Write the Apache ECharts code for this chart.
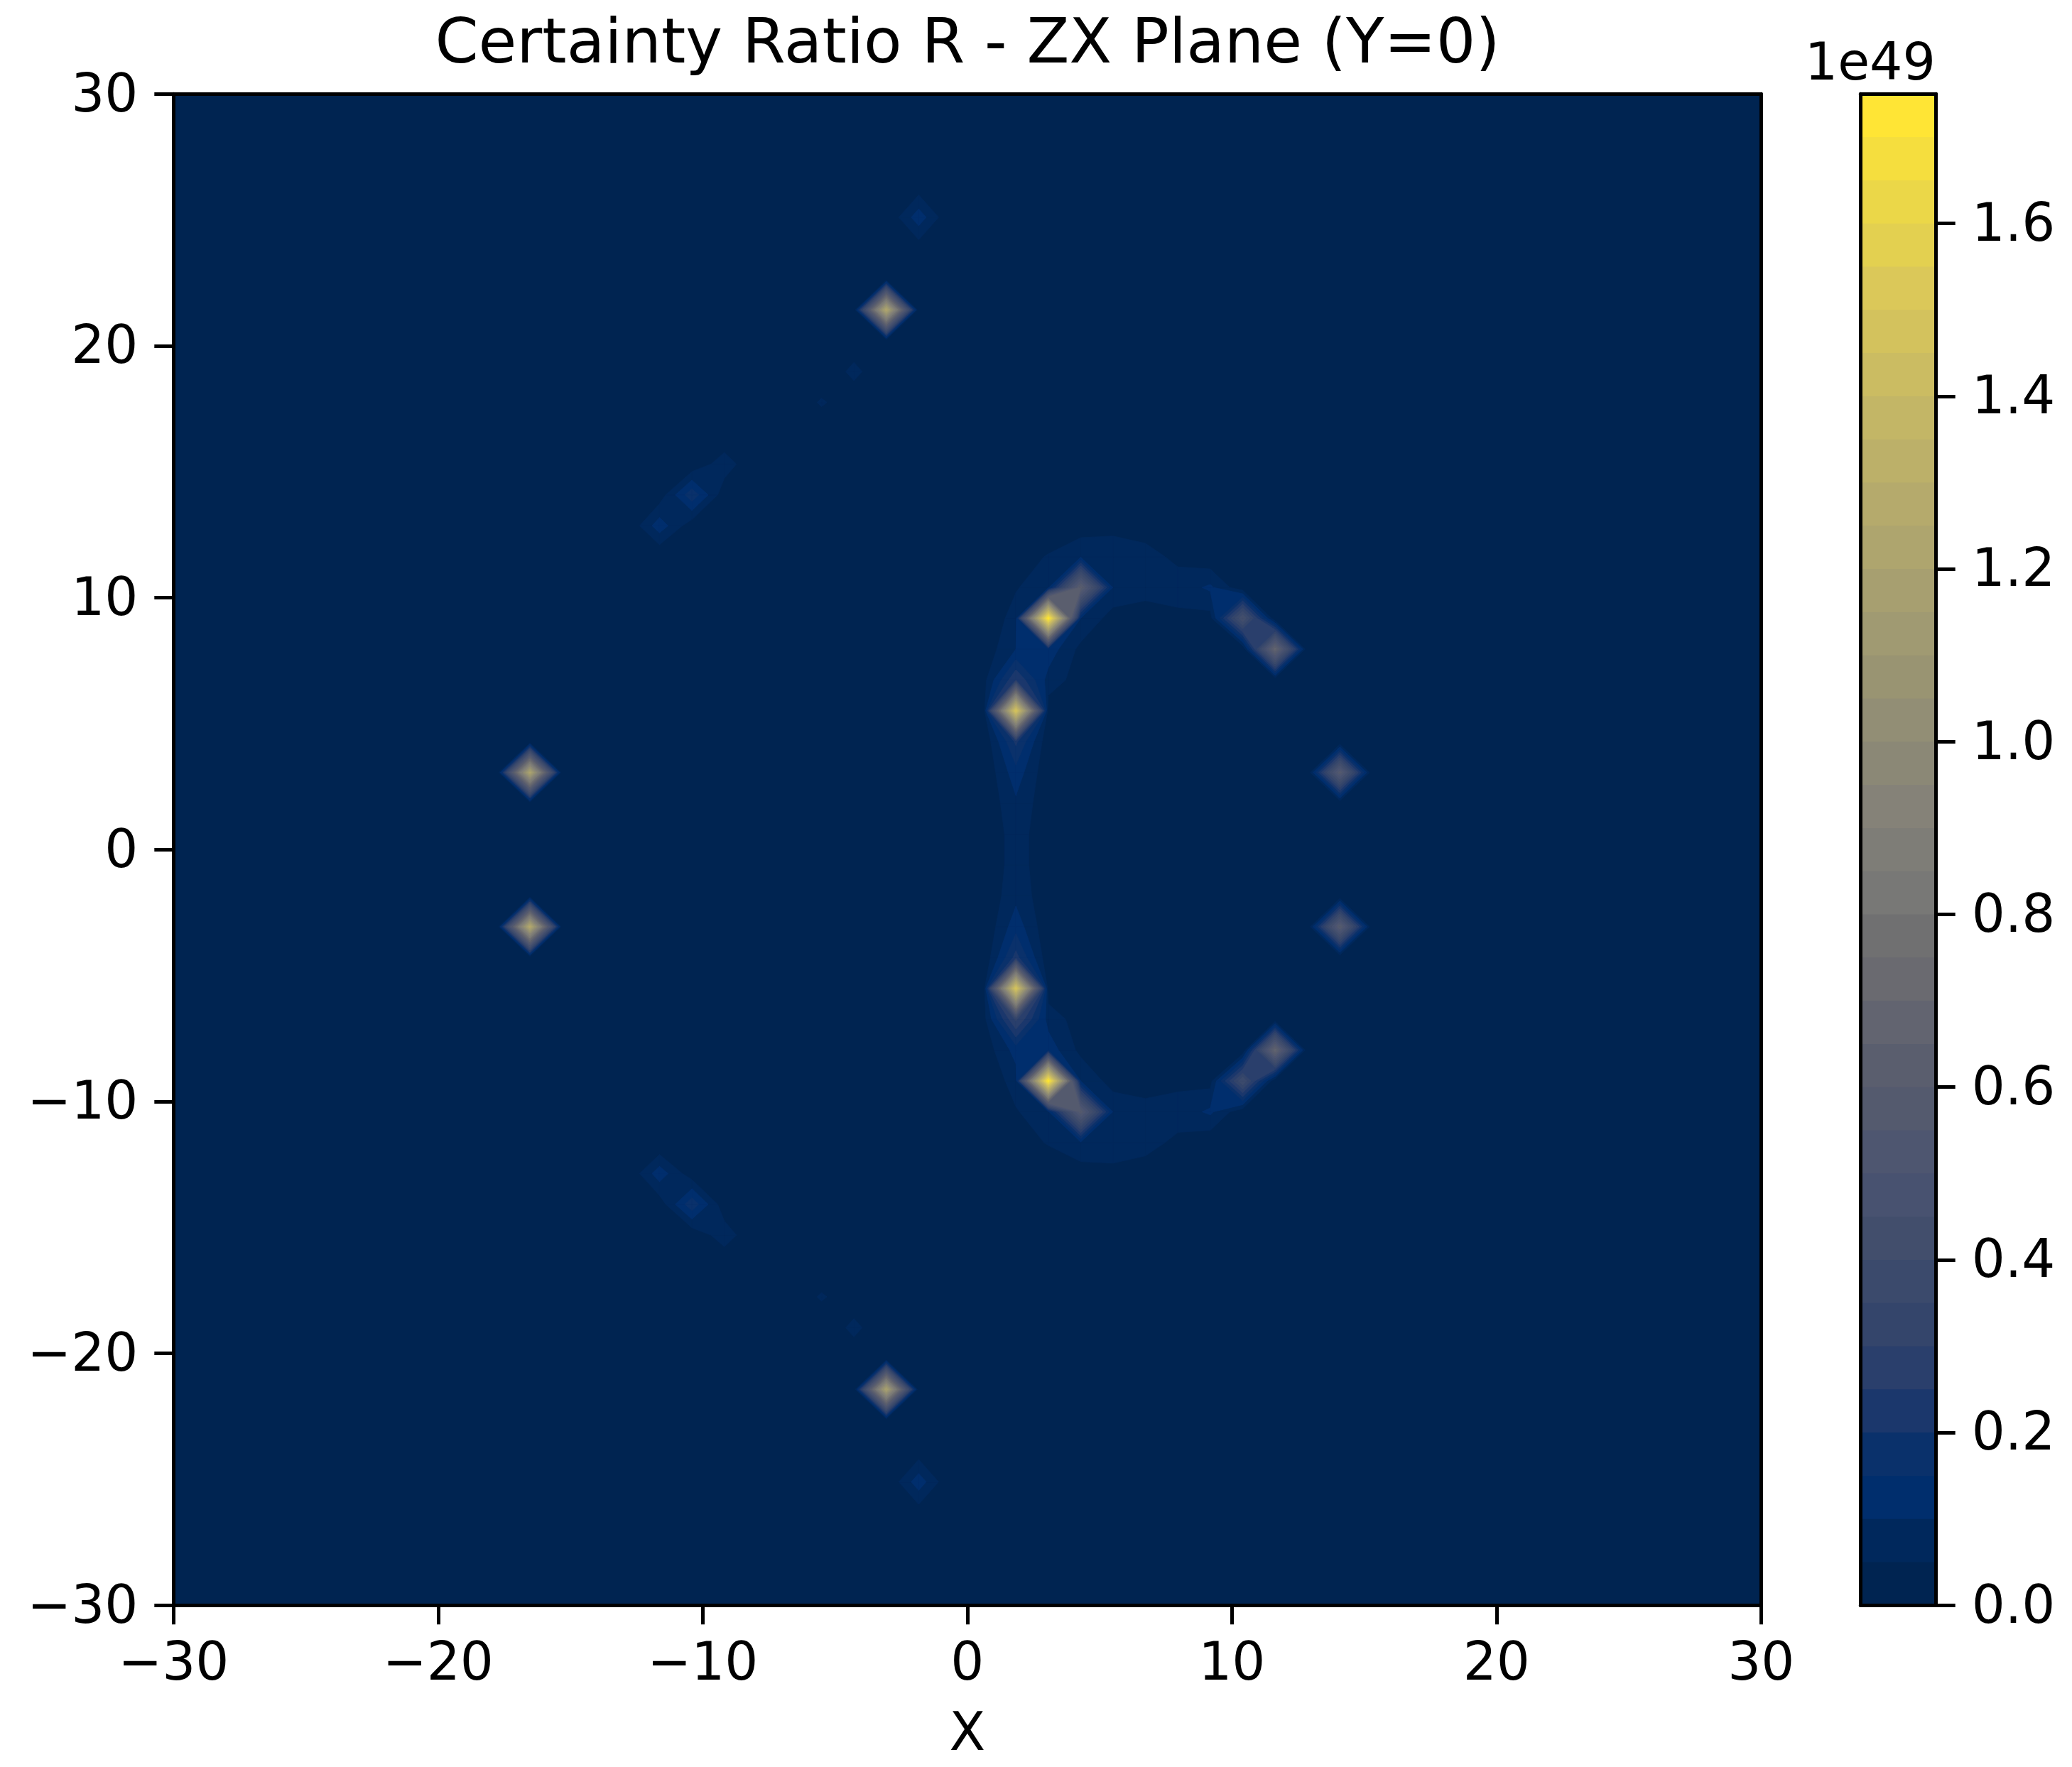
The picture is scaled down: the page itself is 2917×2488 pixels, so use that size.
<!DOCTYPE html>
<html>
<head>
<meta charset="utf-8">
<title>Certainty Ratio R - ZX Plane (Y=0)</title>
<script src="https://cdn.jsdelivr.net/npm/echarts@6/dist/echarts.min.js"></script>
<style>
    html, body { margin: 0; padding: 0; background: #fff; }
    #chart { width: 2917px; height: 2488px; }
</style>
</head>
<body>
<div id="chart"></div>
<script>
// values are in units of 1e49, nodes are [column, row, value] on the 50x50 sample grid, all other nodes are 0
const sparkNodesUpper = [
    [11, 27, 1.22], [36, 27, 0.58], [22, 42, 1.25],
    [23, 45, 0.13], [23, 46, 0.02], [23, 44, 0.02],
    [21, 40, 0.067], [21, 41, 0.01], [21, 39, 0.01], [20, 39, 0.058],
    [15, 35, 0.13], [16, 36, 0.186], [17, 37, 0.08], [17, 36, 0.015],
    [16, 35, 0.016], [15, 36, 0.018], [16, 37, 0.007],
];
const sparkNodesLower = [
    [11, 22, 1.27], [36, 22, 0.6], [22, 7, 1.2],
    [23, 4, 0.13], [23, 3, 0.02], [23, 5, 0.02],
    [21, 9, 0.067], [21, 8, 0.01], [21, 10, 0.01], [20, 10, 0.058],
    [15, 14, 0.13], [16, 13, 0.186], [17, 12, 0.08], [17, 13, 0.015],
    [16, 14, 0.016], [15, 13, 0.018], [16, 12, 0.007],
];
const crescentNodesUpper = [
    [25, 25, 0.013], [26, 25, 0.07], [27, 25, 0.02],
    [25, 26, 0.006], [26, 26, 0.09], [27, 26, 0.013],
    [25, 27, 0.002], [26, 27, 0.13], [27, 27, 0.009],
    [25, 28, 0.004], [26, 28, 0.21], [27, 28, 0.012],
    [26, 29, 1.5], [27, 29, 0.02],
    [25, 30, 0.03], [26, 30, 0.25], [27, 30, 0.08], [28, 30, 0.024],
    [25, 31, 0.015], [26, 31, 0.1], [27, 31, 0.13], [28, 31, 0.035], [34, 31, 0.68],
    [26, 32, 0.075], [27, 32, 1.745], [28, 32, 0.1], [29, 32, 0.025], [30, 32, 0.01],
    [31, 32, 0.039], [32, 32, 0.03], [33, 32, 0.45],
    [26, 33, 0.045], [27, 33, 0.09], [28, 33, 0.62], [29, 33, 0.095], [30, 33, 0.08],
    [31, 33, 0.07], [32, 33, 0.11], [33, 33, 0.01],
    [26, 34, 0.017], [27, 34, 0.055], [28, 34, 0.09], [29, 34, 0.08], [30, 34, 0.065],
    [31, 34, 0.04], [32, 34, 0.01],
    [28, 35, 0.025], [29, 35, 0.035], [30, 35, 0.03],
];
const crescentNodesLower = [
    [25, 24, 0.013], [26, 24, 0.07], [27, 24, 0.02],
    [25, 23, 0.006], [26, 23, 0.085], [27, 23, 0.013],
    [25, 22, 0.002], [26, 22, 0.13], [27, 22, 0.009],
    [25, 21, 0.004], [26, 21, 0.22], [27, 21, 0.012],
    [26, 20, 1.5], [27, 20, 0.02],
    [25, 19, 0.03], [26, 19, 0.31], [27, 19, 0.08], [28, 19, 0.024],
    [25, 18, 0.015], [26, 18, 0.12], [27, 18, 0.13], [28, 18, 0.035], [34, 18, 0.68],
    [26, 17, 0.075], [27, 17, 1.745], [28, 17, 0.1], [29, 17, 0.025], [30, 17, 0.01],
    [31, 17, 0.039], [32, 17, 0.03], [33, 17, 0.4],
    [26, 16, 0.045], [27, 16, 0.09], [28, 16, 0.58], [29, 16, 0.095], [30, 16, 0.08],
    [31, 16, 0.07], [32, 16, 0.11], [33, 16, 0.01],
    [26, 15, 0.017], [27, 15, 0.055], [28, 15, 0.09], [29, 15, 0.08], [30, 15, 0.065],
    [31, 15, 0.04], [32, 15, 0.01],
    [28, 14, 0.025], [29, 14, 0.035], [30, 14, 0.03],
];

const levels = [
    0, 0.05, 0.1, 0.15, 0.2, 0.25, 0.3, 0.35, 0.4, 0.45, 0.5, 0.55,
    0.6, 0.65, 0.7, 0.75, 0.8, 0.85, 0.9, 0.95, 1.0, 1.05, 1.1, 1.15,
    1.2, 1.25, 1.3, 1.35, 1.4, 1.45, 1.5, 1.55, 1.6, 1.65, 1.7,
];
const bandColors = [
    "#002451", "#00285C", "#002E6D", "#0A316B", "#1B376C", "#2A3F6C", "#34456B",
    "#3B4A6C", "#424E6C", "#485270", "#4E5670", "#545A6E", "#5A5E6E", "#626470",
    "#6A6A70", "#707071", "#787876", "#7E7D77", "#858278", "#8B8876", "#928E75",
    "#999472", "#A09A72", "#A79F70", "#AEA56E", "#B5AA6C", "#BCB069", "#C3B666",
    "#CBBC62", "#D3C25D", "#DBC859", "#E3D050", "#EBD748", "#F5DE3E", "#FFE535",
];
const axisTicks = [-30, -20, -10, 0, 10, 20, 30];
const colorbarTicks = [0, 0.2, 0.4, 0.6, 0.8, 1.0, 1.2, 1.4, 1.6];

const FONT = "DejaVu Sans";
const GRID_SIZE = 50;
const BAR_MAX = 1.75;

const gridStep = 60 / (GRID_SIZE - 1);
const zValues = [];
for (let j = 0; j < GRID_SIZE; j++) {
    zValues.push(new Array(GRID_SIZE).fill(0));
}
[sparkNodesUpper, sparkNodesLower, crescentNodesUpper, crescentNodesLower].forEach(function (nodes) {
    nodes.forEach(function (n) {
        zValues[n[1]][n[0]] = n[2];
    });
});

// part of one grid cell where the value is >= level, edges are linear between the corners
function cellPolygons(k, j, level) {
    const corners = [[k, j], [k + 1, j], [k + 1, j + 1], [k, j + 1]];
    const vals = corners.map(c => zValues[c[1]][c[0]]);
    const isIn = vals.map(v => v >= level);
    const pts = [];
    for (let i = 0; i < 4; i++) {
        const next = (i + 1) % 4;
        if (isIn[i]) pts.push(corners[i]);
        if (isIn[i] !== isIn[next]) {
            const t = (level - vals[i]) / (vals[next] - vals[i]);
            pts.push([
                corners[i][0] + t * (corners[next][0] - corners[i][0]),
                corners[i][1] + t * (corners[next][1] - corners[i][1]),
            ]);
        }
    }
    if (pts.length < 3) return [];

    // saddle: the two high corners only join when the cell centre is above the level
    const isSaddle = isIn[0] === isIn[2] && isIn[1] === isIn[3] && isIn[0] !== isIn[1];
    const centre = (vals[0] + vals[1] + vals[2] + vals[3]) / 4;
    if (isSaddle && centre < level) {
        if (isIn[0]) return [[pts[0], pts[1], pts[5]], [pts[2], pts[3], pts[4]]];
        return [[pts[0], pts[1], pts[2]], [pts[3], pts[4], pts[5]]];
    }
    return [pts];
}

// bands are painted low to high, each one covers everything at or above its level
function renderBand(params, api) {
    const band = params.dataIndex;
    const level = levels[band];
    const color = bandColors[band];
    if (band === 0) {
        const low = api.coord([-30, -30]);
        const high = api.coord([30, 30]);
        return {
            type: "rect",
            shape: { x: low[0], y: high[1], width: high[0] - low[0], height: low[1] - high[1] },
            style: { fill: color },
        };
    }
    const children = [];
    for (let j = 0; j < GRID_SIZE - 1; j++) {
        for (let k = 0; k < GRID_SIZE - 1; k++) {
            cellPolygons(k, j, level).forEach(function (poly) {
                children.push({
                    type: "polygon",
                    shape: { points: poly.map(p => api.coord([-30 + p[0] * gridStep, -30 + p[1] * gridStep])) },
                    style: { fill: color, stroke: color, lineWidth: 0.8 },
                });
            });
        }
    }
    return { type: "group", children: children };
}

function renderBarBand(params, api) {
    const band = params.dataIndex;
    const low = api.coord([0, levels[band]]);
    const high = api.coord([1, BAR_MAX]);
    return {
        type: "rect",
        shape: { x: low[0], y: high[1], width: high[0] - low[0], height: low[1] - high[1] },
        style: { fill: bandColors[band] },
    };
}

function tickLabel(value) {
    return String(value).replace("-", "\u2212");
}

const blackLine = { show: true, onZero: false, lineStyle: { color: "#000", width: 5 } };
const outTick = { show: true, length: 27, lineStyle: { color: "#000", width: 5 } };
const labelStyle = { color: "#000", fontFamily: FONT, fontSize: 74 };

function mainAxis(position, withTicks, labelExtra, extra) {
    return Object.assign({
        type: "value",
        gridIndex: 0,
        position: position,
        min: -30,
        max: 30,
        interval: 10,
        z: 10,
        splitLine: { show: false },
        axisLine: blackLine,
        axisTick: withTicks ? Object.assign({}, outTick, { customValues: axisTicks }) : { show: false },
        axisLabel: withTicks
            ? Object.assign({ customValues: axisTicks, formatter: tickLabel, hideOverlap: false }, labelStyle, labelExtra)
            : { show: false },
    }, extra || {});
}

function barFrameAxis(position, isValue) {
    return {
        type: "value",
        gridIndex: 1,
        position: position,
        min: 0,
        max: isValue ? BAR_MAX : 1,
        z: 10,
        splitLine: { show: false },
        axisLine: blackLine,
        axisTick: { show: false },
        axisLabel: { show: false },
    };
}

const chart = echarts.init(document.getElementById("chart"));

chart.setOption({
    animation: false,
    backgroundColor: "#fff",
    title: [
        {
            text: "Certainty Ratio R - ZX Plane (Y=0)",
            left: 1362,
            top: 21,
            padding: 0,
            textAlign: "center",
            textStyle: { color: "#000", fontFamily: FONT, fontSize: 87.5, fontWeight: "normal" },
        },
        {
            text: "1e49",
            left: 2725,
            top: 57,
            padding: 0,
            textAlign: "right",
            textStyle: { color: "#000", fontFamily: FONT, fontSize: 73, fontWeight: "normal" },
        },
    ],
    grid: [
        { left: 244.3, top: 132.3, width: 2235, height: 2128, outerBoundsMode: "none" },
        { left: 2619.3, top: 132.3, width: 106.4, height: 2128, outerBoundsMode: "none" },
    ],
    xAxis: [
        mainAxis("bottom", true, { margin: 48 }, {
            name: "X",
            nameLocation: "middle",
            nameGap: 147,
            nameTextStyle: labelStyle,
        }),
        mainAxis("top", false),
        barFrameAxis("bottom", false),
        barFrameAxis("top", false),
    ],
    yAxis: [
        // top aligned with a short line box drops the digits onto the tick centre
        mainAxis("left", true, { margin: 50, verticalAlign: "top", lineHeight: 10 }),
        mainAxis("right", false),
        barFrameAxis("left", true),
        Object.assign(barFrameAxis("right", true), {
            axisTick: Object.assign({}, outTick, { customValues: colorbarTicks }),
            axisLabel: Object.assign({
                show: true,
                margin: 50,
                verticalAlign: "top",
                lineHeight: 10,
                customValues: colorbarTicks,
                formatter: value => value.toFixed(1),
            }, labelStyle),
        }),
    ],
    series: [
        {
            type: "custom",
            xAxisIndex: 0,
            yAxisIndex: 0,
            coordinateSystem: "cartesian2d",
            clip: true,
            silent: true,
            renderItem: renderBand,
            data: levels.map(level => [0, 0, level]),
        },
        {
            type: "custom",
            xAxisIndex: 2,
            yAxisIndex: 3,
            coordinateSystem: "cartesian2d",
            silent: true,
            renderItem: renderBarBand,
            data: levels.map(level => [0, level]),
        },
    ],
});
</script>
</body>
</html>
